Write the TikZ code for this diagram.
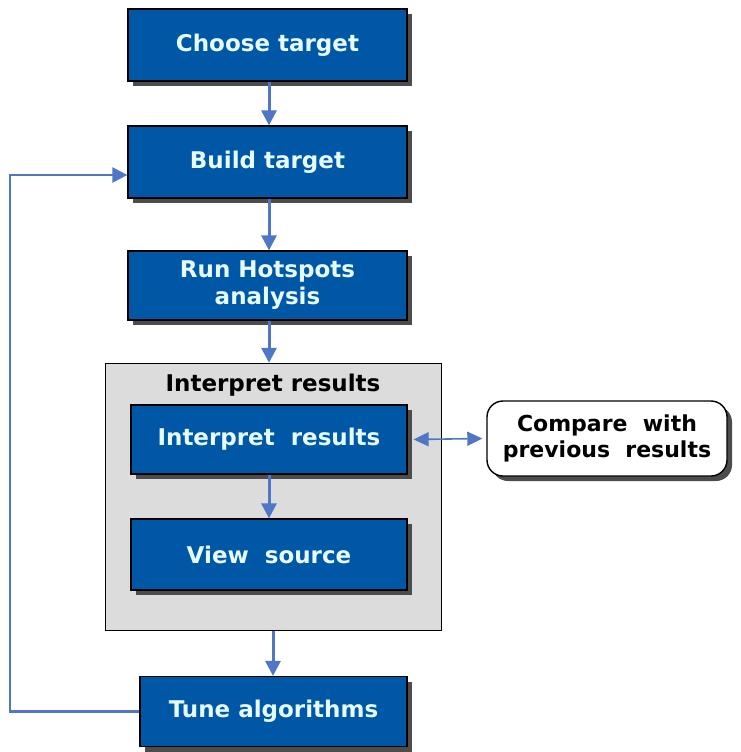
\documentclass[tikz,border=0pt]{standalone}
\usepackage{fontspec}
\setmainfont{DejaVu Sans}
\usetikzlibrary{positioning}
\usetikzlibrary{shadows, arrows.meta}
\definecolor{stepblue}{HTML}{0057A6}
\definecolor{flowblue}{HTML}{4F77C6}
\definecolor{panegray}{HTML}{DCDCDC}
\definecolor{labelwhite}{HTML}{E6FBFF}
\tikzset{
  taskbox/.style={rectangle,draw=black,line width=1.2pt,fill=stepblue,text=labelwhite,
    font=\fontsize{23}{26}\selectfont\bfseries,align=center,
    drop shadow={shadow xshift=5pt,shadow yshift=-5pt,fill=black!70,opacity=1}},
  flow/.style={flowblue,line width=3pt,-{Triangle[width=15pt,length=15pt]}},
}

\begin{document}
\begin{tikzpicture}[x=1pt,y=-1pt]
\useasboundingbox (0,0) rectangle (740,752);
\node[taskbox,minimum width=279pt,minimum height=72pt] (choose) at (267.5,45) {Choose target};
\node[taskbox,minimum width=279pt,minimum height=72pt] (build) at (267.5,162) {Build target};
\node[taskbox,minimum width=279pt,minimum height=69pt] (run) at (267.5,285.5) {Run Hotspots\\[1pt]analysis};

\node[rectangle,draw=black,line width=1.4pt,fill=panegray,minimum width=336pt,minimum height=267pt] (pane) at (273.5,497) {};
\node[font=\fontsize{23}{26}\selectfont\bfseries] (panetitle) at (273,385) {Interpret results};
\node[taskbox,minimum width=276pt,minimum height=69pt] (interpret) at (269,439.5) {Interpret\ \ results};
\node[taskbox,minimum width=276pt,minimum height=71pt] (source) at (269,554.5) {View\ \ source};

\node[rectangle,rounded corners=16pt,draw=black,line width=1.4pt,fill=white,align=center,
  font=\fontsize{22}{26}\selectfont\bfseries,minimum width=240pt,minimum height=75pt,inner xsep=2pt,
  drop shadow={shadow xshift=5pt,shadow yshift=-5pt,fill=black!70,opacity=1}] (compare) at (607,438.5) {Compare\ \ with\\previous\ \ results};

\node[taskbox,minimum width=267pt,minimum height=70pt] (tune) at (273.5,711.5) {Tune algorithms};

\coordinate (bend) at (10,175);

\draw[flow] (choose.south -| 269,0) -- (build.north -| 269,0);
\draw[flow] (build.south -| 269,0) -- (run.north -| 269,0);
\draw[flow] (run.south -| 269,0) -- (pane.north -| 269,0);
\draw[flow] (interpret.south -| 269,0) -- (source.north -| 269,0);
\draw[flow] (pane.south -| 273,0) -- (tune.north -| 273,0);
\draw[flow,line width=1.6pt,{Triangle[width=14pt,length=15pt]}-{Triangle[width=14pt,length=15pt]}] ([xshift=6pt]interpret.east) -- ([xshift=-4pt]compare.west);
\draw[flow,line width=2.2pt] (tune.west) -| (bend) -- (bend -| build.west);

\end{tikzpicture}
\end{document}
